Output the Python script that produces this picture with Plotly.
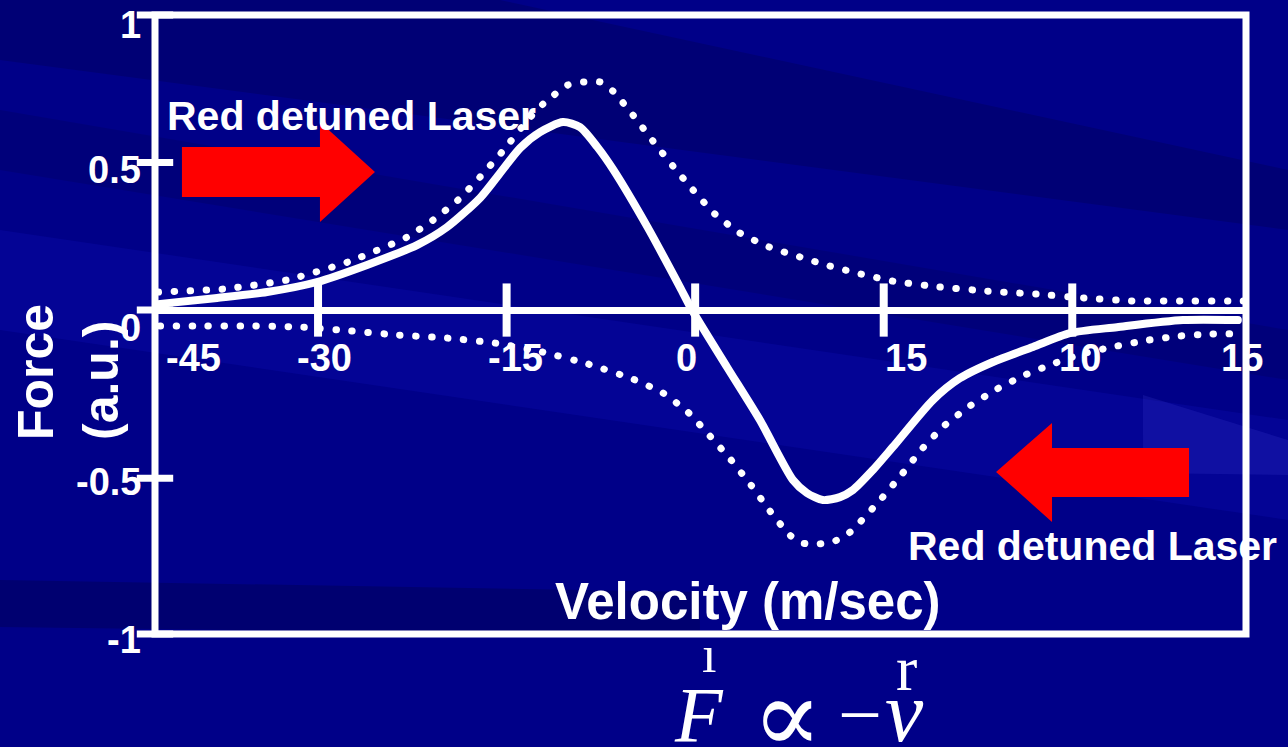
import plotly.graph_objects as go

# ---------------- data (velocity in m/s, force in a.u.) ----------------
solid_v = [-42.73, -38.03, -34.05, -30.08, -26.10, -22.13, -19.74, -17.11, -15.76, -13.93,
           -12.34, -10.51, -9.16, -7.79, -6.50, -3.79, -1.21, -0.25, 2.53, 5.15, 7.78, 8.89,
           10.16, 11.52, 12.55, 14.14, 15.73, 18.91, 21.06, 23.69, 26.87, 29.81, 33.55, 38.80, 43.17]
solid_f = [0.020, 0.041, 0.061, 0.095, 0.153, 0.220, 0.281, 0.380, 0.451, 0.549,
           0.603, 0.637, 0.620, 0.553, 0.475, 0.281, 0.078, 0.000, -0.193, -0.373, -0.576, -0.620,
           -0.644, -0.634, -0.610, -0.542, -0.464, -0.305, -0.231, -0.176, -0.125, -0.078, -0.058, -0.034, -0.034]

dot_up_v = [-42.73, -37.56, -32.47, -27.61, -22.92, -20.85, -18.86, -17.11, -15.36, -13.38,
            -12.11, -10.12, -8.85, -7.57, -6.54, -4.95, -3.36, -1.77, -0.17, 1.58, 3.56,
            5.87, 8.33, 10.72, 13.19, 15.73, 19.47, 23.28, 27.12, 30.93, 34.75, 38.57, 42.38, 43.8]
dot_up_f = [0.061, 0.071, 0.102, 0.163, 0.247, 0.305, 0.373, 0.451, 0.536, 0.641,
            0.698, 0.763, 0.773, 0.773, 0.742, 0.661, 0.573, 0.488, 0.407, 0.325, 0.261,
            0.214, 0.180, 0.149, 0.122, 0.098, 0.078, 0.064, 0.054, 0.041, 0.031, 0.031, 0.031, 0.031]

dot_lo_v = [-42.57, -38.82, -35.00, -31.18, -27.36, -23.54, -19.72, -15.90, -12.17, -8.51,
            -4.95, -2.56, -0.57, 1.18, 2.85, 4.44, 5.95, 7.54, 8.56, 9.83, 11.10, 12.23,
            13.11, 14.86, 16.45, 18.04, 19.79, 21.86, 24.00, 26.23, 28.62, 31.01, 33.55,
            36.02, 38.57, 41.11, 43.57]
dot_lo_f = [-0.054, -0.054, -0.054, -0.058, -0.071, -0.085, -0.095, -0.112, -0.142, -0.183,
            -0.234, -0.281, -0.346, -0.427, -0.508, -0.593, -0.681, -0.763, -0.790, -0.793,
            -0.783, -0.756, -0.719, -0.637, -0.556, -0.471, -0.393, -0.325, -0.268, -0.220,
            -0.180, -0.146, -0.122, -0.102, -0.088, -0.081, -0.081]

x_tick_vals = [-30, -15, 0, 15, 30]
x_label_text = ['-45', '-30', '-15', '0', '15', '10', '15']
x_label_pos = [-39.9, -29.5, -14.3, -0.7, 16.8, 30.6, 43.5]

y_tick_vals = [1.0, 0.5, 0.0, -0.57, -1.098]
y_label_text = ['1', '0.5', '0', '-0.5', '-1']
y_label_pos = [0.966, 0.475, -0.061, -0.583, -1.119]

x_range = [-42.97, 43.82]
y_range = [-1.098, 1.0]

x_title = 'Velocity (m/sec)'
y_title = 'Force<br>(a.u.)'
laser_text = 'Red detuned Laser'

# ---------------- layout helpers (pixel -> paper) ----------------
W, H = 1288, 747
L, R, T, B = 155, 1246, 15, 634


def PX(px):
    return (px - L) / (R - L)


def PY(py):
    return (B - py) / (B - T)


def YP(v):
    return (v - y_range[0]) / (y_range[1] - y_range[0])


def poly(points):
    return 'M ' + ' L '.join(f'{PX(x):.4f},{PY(y):.4f}' for x, y in points) + ' Z'


WHITE = '#FFFFFF'
FONT = 'Liberation Sans'
DOTS = dict(color=WHITE, width=7, dash='0.5px,15.5px', shape='spline', smoothing=0.5)

fig = go.Figure()

fig.add_trace(go.Scatter(x=dot_up_v, y=dot_up_f, mode='lines', line=DOTS, hoverinfo='skip'))
fig.add_trace(go.Scatter(x=dot_lo_v, y=dot_lo_f, mode='lines', line=DOTS, hoverinfo='skip'))
fig.add_trace(go.Scatter(x=solid_v, y=solid_f, mode='lines',
                         line=dict(color=WHITE, width=8, shape='spline', smoothing=0.7), hoverinfo='skip'))

# crossing tick marks
fig.add_trace(go.Scatter(x=x_tick_vals, y=[0] * len(x_tick_vals), mode='markers', cliponaxis=False,
                         marker=dict(symbol='line-ns', size=38, color=WHITE, line=dict(color=WHITE, width=8)),
                         hoverinfo='skip'))
fig.add_trace(go.Scatter(x=[x_range[0]] * len(y_tick_vals), y=y_tick_vals, mode='markers', cliponaxis=False,
                         marker=dict(symbol='line-ew', size=26, color=WHITE, line=dict(color=WHITE, width=7)),
                         hoverinfo='skip'))

annotations = []
for t, xv in zip(x_label_text, x_label_pos):
    annotations.append(dict(x=xv, y=0, xref='x', yref='y', yshift=-48, text=t, showarrow=False,
                            xanchor='center', yanchor='middle',
                            font=dict(family=FONT, size=38, color=WHITE, weight='bold')))
for t, yv in zip(y_label_text, y_label_pos):
    annotations.append(dict(x=0, y=YP(yv), xref='paper', yref='paper', xshift=-12, text=t, showarrow=False,
                            xanchor='right', yanchor='middle',
                            font=dict(family=FONT, size=38, color=WHITE, weight='bold')))

annotations.append(dict(x=PX(748), y=PY(601), xref='paper', yref='paper', text=x_title, showarrow=False,
                        xanchor='center', yanchor='middle',
                        font=dict(family=FONT, size=51, color=WHITE, weight='bold')))
annotations.append(dict(x=PX(69), y=PY(372), xref='paper', yref='paper', text=y_title, showarrow=False,
                        textangle=-90, align='left', xanchor='center', yanchor='middle',
                        font=dict(family=FONT, size=50, color=WHITE, weight='bold')))
annotations.append(dict(x=PX(351), y=PY(116), xref='paper', yref='paper', text=laser_text, showarrow=False,
                        xanchor='center', yanchor='middle',
                        font=dict(family=FONT, size=41, color=WHITE, weight='bold')))
annotations.append(dict(x=PX(1092), y=PY(546), xref='paper', yref='paper', text=laser_text, showarrow=False,
                        xanchor='center', yanchor='middle',
                        font=dict(family=FONT, size=41, color=WHITE, weight='bold')))

# formula F ∝ -v (with the broken vector-arrow glyphs above F and v)
SERIF = 'Liberation Serif'
formula = [('<i>F</i>', 699, 714, 78, SERIF), ('ı', 709, 654, 52, SERIF), ('∝', 787, 716, 104, 'DejaVu Serif'),
           ('−', 860, 714, 78, SERIF), ('<i>v</i>', 904, 712, 86, SERIF), ('r', 906, 668, 64, SERIF)]
for t, fx, fy, fs, fam in formula:
    annotations.append(dict(x=PX(fx), y=PY(fy), xref='paper', yref='paper', text=t, showarrow=False,
                            xanchor='center', yanchor='middle',
                            font=dict(family=fam, size=fs, color=WHITE)))

shapes = [
    # background streaks (subtle)
    dict(type='path', xref='paper', yref='paper', layer='below', line=dict(width=0),
         fillcolor='rgba(0,0,50,0.22)', path=poly([(0, 0), (500, 0), (1288, 170), (1288, 230), (0, 60)])),
    dict(type='path', xref='paper', yref='paper', layer='below', line=dict(width=0),
         fillcolor='rgba(0,0,60,0.18)', path=poly([(0, 110), (1288, 330), (1288, 380), (0, 170)])),
    dict(type='path', xref='paper', yref='paper', layer='below', line=dict(width=0),
         fillcolor='rgba(20,20,210,0.18)', path=poly([(0, 230), (1288, 420), (1288, 520), (0, 330)])),
    dict(type='path', xref='paper', yref='paper', layer='below', line=dict(width=0),
         fillcolor='rgba(0,0,50,0.28)', path=poly([(0, 580), (700, 592), (700, 636), (0, 627)])),
    dict(type='path', xref='paper', yref='paper', layer='below', line=dict(width=0),
         fillcolor='rgba(70,70,220,0.18)', path=poly([(1143, 395), (1288, 440), (1288, 475), (1143, 473)])),
    # frame
    dict(type='rect', xref='paper', yref='paper', x0=0, x1=1, y0=0, y1=1, layer='above',
         line=dict(color=WHITE, width=7)),
    # red arrows
    dict(type='path', xref='paper', yref='paper', layer='above', line=dict(width=0), fillcolor='#FF0000',
         path=poly([(182, 147), (320, 147), (320, 122), (375, 172), (320, 222), (320, 197), (182, 197)])),
    dict(type='path', xref='paper', yref='paper', layer='above', line=dict(width=0), fillcolor='#FF0000',
         path=poly([(1189, 448), (1052, 448), (1052, 423), (996, 472), (1052, 522), (1052, 497), (1189, 497)])),
]

fig.update_layout(
    width=W, height=H, autosize=False,
    margin=dict(l=L, r=W - R, t=T, b=H - B, pad=0),
    paper_bgcolor='#000088', plot_bgcolor='rgba(0,0,0,0)',
    showlegend=False,
    xaxis=dict(range=x_range, showgrid=False, zeroline=False, showticklabels=False, ticks='',
               showline=False, fixedrange=True),
    yaxis=dict(range=y_range, showgrid=False, zeroline=True, zerolinecolor=WHITE, zerolinewidth=7,
               showticklabels=False, ticks='', showline=False, fixedrange=True),
    annotations=annotations, shapes=shapes,
)

post = ("document.body.style.margin='0';document.body.style.background='#000088';"
        "var s=document.createElement('style');"
        "s.innerHTML='.scatterlayer .js-line{stroke-linecap:round;}';"
        "document.head.appendChild(s);")
fig.write_html("out.html", post_script=post, config={'displayModeBar': False})
